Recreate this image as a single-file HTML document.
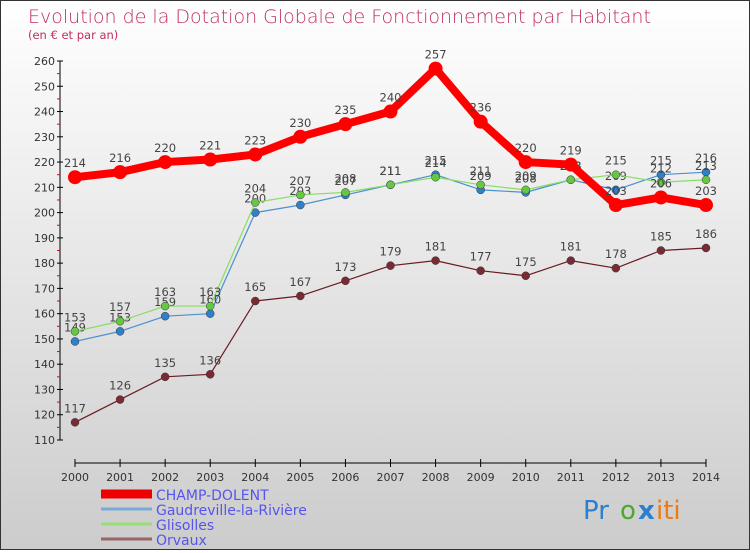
<!DOCTYPE html>
<html><head><meta charset="utf-8"><style>
html,body{margin:0;padding:0}
body{width:750px;height:550px;overflow:hidden;font-family:"DejaVu Sans","Liberation Sans",sans-serif}
#c{position:absolute;left:0;top:0;width:748px;height:548px;border:1px solid #333;background:linear-gradient(#ffffff,#cccccc)}
</style></head><body>
<div id="c">
<svg id="s" width="748" height="548" xmlns="http://www.w3.org/2000/svg">
<text x="27" y="22" font-size="19" fill="#c0305a" font-family="DejaVu Sans,sans-serif" style="font-weight:200">Evolution de la Dotation Globale de Fonctionnement par Habitant</text>
<text x="27" y="38" font-size="11.5" fill="#c0305a">(en € et par an)</text>
<g id="axes"></g><g id="series"></g><g id="legend"></g>
<g font-family="DejaVu Sans,sans-serif" font-size="26">
<text x="582" y="518" fill="#2a7fd0">Pr</text><text x="619" y="518" fill="#4aaa30">o</text><text x="637" y="518" fill="#2a7fd0" font-weight="bold">x</text><text x="655" y="518" fill="#f07a10">iti</text>
</g>
</svg></div>
<script>
const years=[2000,2001,2002,2003,2004,2005,2006,2007,2008,2009,2010,2011,2012,2013,2014];
const yTicks=[110,120,130,140,150,160,170,180,190,200,210,220,230,240,250,260];
const champ=[214,216,220,221,223,230,235,240,257,236,220,219,203,206,203];
const gaud=[149,153,159,160,200,203,207,211,215,209,208,213,209,215,216];
const glis=[153,157,163,163,204,207,208,211,214,211,209,213,215,212,213];
const orv=[117,126,135,136,165,167,173,179,181,177,175,181,178,185,186];
const names=["CHAMP-DOLENT","Gaudreville-la-Rivière","Glisolles","Orvaux"];
const NS="http://www.w3.org/2000/svg";
const X=i=>74+i*(631/14);
const Y=v=>439-(v-110)*(379/150);
function mk(p,t,a){const e=document.createElementNS(NS,t);for(const k in a)e.setAttribute(k,a[k]);p.appendChild(e);return e;}
const ax=document.getElementById('axes');
let l=mk(ax,'line',{x1:59,y1:Y(260),x2:59,y2:Y(110),stroke:'#000'});

yTicks.forEach(v=>{
 mk(ax,'line',{x1:56,x2:62,y1:Y(v),y2:Y(v),stroke:'#000'});
 if(v<260)mk(ax,'line',{x1:56,x2:59,y1:Y(v+5),y2:Y(v+5),stroke:'#e00'});
 const t=mk(ax,'text',{x:54,y:Y(v)+4,'text-anchor':'end','font-size':11,fill:'#333'});
 t.textContent=v;
});
l=mk(ax,'line',{x1:X(0),y1:462,x2:X(14),y2:462,stroke:'#000'});

years.forEach((y,i)=>{
 mk(ax,'line',{x1:X(i),x2:X(i),y1:458,y2:466,stroke:'#000'});
 const t=mk(ax,'text',{x:X(i),y:480,'text-anchor':'middle','font-size':11,fill:'#333'});
 t.textContent=y;
});
const sg=document.getElementById('series');
const defs=[[orv,'#6b1a20','#7a2a30',1.2,4,'orvaux'],[gaud,'#4a90d0','#3080c8',1.2,4,'gaudreville'],[glis,'#88dd66','#66c840',1.2,4,'glisolles'],[champ,'#ff0000','#ff0000',8,7,'champ-dolent']];
defs.forEach(d=>{
 const g=mk(sg,'g',{});
 
 const p=mk(g,'polyline',{points:d[0].map((v,i)=>X(i)+','+Y(v)).join(' '),fill:'none',stroke:d[1],'stroke-width':d[3],'stroke-linejoin':'round'});
 
 d[0].forEach((v,i)=>{
  const c=mk(g,'circle',{cx:X(i),cy:Y(v),r:d[4],fill:d[2],stroke:d[3]>2?'none':'#334','stroke-width':0.5});
  
  const t=mk(g,'text',{x:X(i),y:Y(v)-10,'text-anchor':'middle','font-size':11.5,fill:'#444'});
  t.textContent=v;
 });
});
const lg=document.getElementById('legend');
const lc=['#ee0000','#7aaad8','#99dd77','#996666'],lw=[9,3,3,3];
names.forEach((n,i)=>{
 const y=492+i*15;
 const g=mk(lg,'g',{});
 mk(g,'line',{x1:100,x2:151,y1:y+1,y2:y+1,stroke:lc[i],'stroke-width':lw[i]});
 const t=mk(g,'text',{x:155,y:y+7,'font-size':14,fill:'#5555ee'});t.textContent=n;
 
});
</script>
</body></html>
